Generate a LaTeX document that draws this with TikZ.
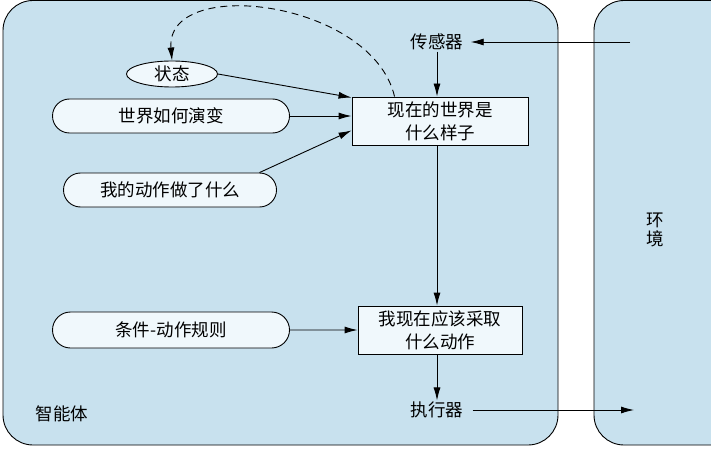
\documentclass[tikz,border=0pt]{standalone}
\usepackage{fontspec}
\setmainfont{Noto Sans CJK SC}
\usetikzlibrary{shapes.geometric,shapes.misc,arrows.meta}
\definecolor{agentblue}{RGB}{200,225,238}
\definecolor{nodefill}{RGB}{240,248,252}
\tikzset{
	pill/.style={rounded rectangle, draw, fill=nodefill, minimum height=34pt, inner sep=0pt},
	statebox/.style={draw, fill=nodefill, align=center, minimum height=48pt, inner sep=0pt},
	plain/.style={inner sep=1pt}
}
\begin{document}
\begin{tikzpicture}[x=1pt, y=-1pt, line width=0.9pt,
	>={Latex[length=13pt,width=7pt]},
	font=\fontsize{17.5}{23}\selectfont]
	\useasboundingbox (0,0) rectangle (711,449);
	\clip (0,0) rectangle (711,449);
	% the two frames
	\draw[rounded corners=30pt, fill=agentblue] (3,0.5) rectangle (558,445);
	\draw[rounded corners=30pt, fill=agentblue] (594,0.5) rectangle (760,445);

	 \node (sensors) [plain] at (437,42) {传感器};
	 \node (world) [statebox, minimum width=176pt] at (440,121) {现在的世界是\\什么样子};
	 \node (state) [ellipse, draw, fill=nodefill, minimum width=91pt, minimum height=26pt, inner sep=0pt] at (172,74) {状态};
	 \node (evolve) [pill, minimum width=237pt] at (171,116) {世界如何演变};
	 \node (effect) [pill, minimum width=213pt] at (170,190) {我的动作做了什么};
	 \node (rules) [pill, minimum width=237pt, minimum height=36pt] at (171,330) {条件-动作规则};
	 \node (action) [statebox, minimum width=164pt] at (440,330) {我现在应该采取\\什么动作};
	 \node (actuators) [plain] at (437,410) {执行器};
	 \node (agent) [plain] at (62,414) {智能体};
	 \node (env) [plain, align=center, font=\fontsize{17.5}{19}\selectfont] at (655,230) {环\\境};
	 \coordinate (percept) at (630,42);
	 \coordinate (act) at (634,410);

	 \path[->]
	   (percept) edge[shorten >=6pt] (sensors)
	   (sensors) edge ([xshift=-3pt]world.north)
	   (state.east) edge ([yshift=-1pt]world.north west)
	   (evolve.east) edge (evolve.east -| world.west)
	   (effect.north east) edge ([yshift=15pt]world.south west)
	   ([xshift=-3pt]world.south) edge ([xshift=-3pt]action.north)
	   (rules) edge (action)
	   ([xshift=-3pt]action.south) edge (actuators)
	   (actuators) edge[shorten <=8pt] (act);
	 \draw[->, dashed, dash pattern=on 7pt off 5pt] ([xshift=43pt]world.north west)
	   .. controls (372,0) and (165,-25) .. (state.north);
\end{tikzpicture}
\end{document}
